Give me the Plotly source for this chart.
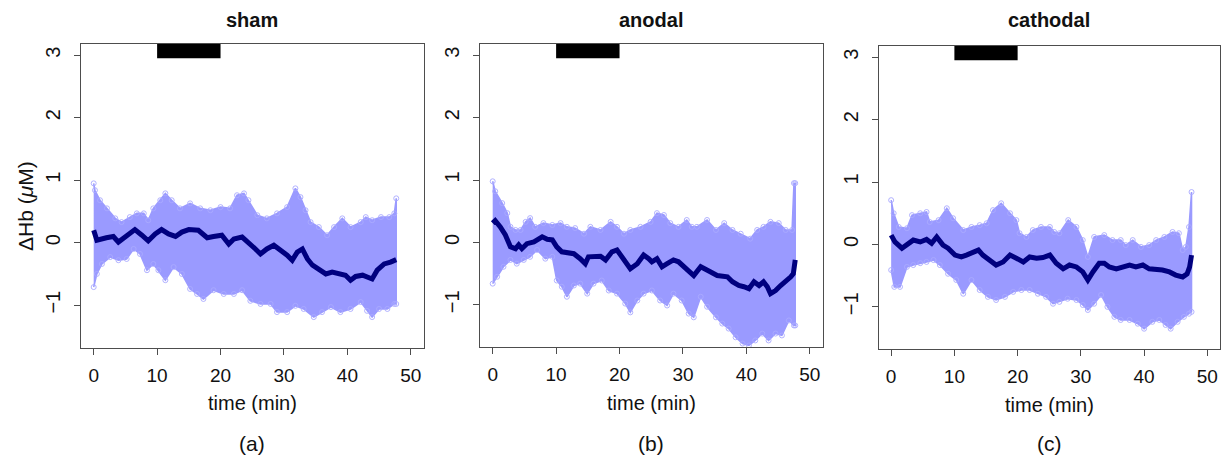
import plotly.graph_objects as go

# ---------------- data ----------------
titles = ["sham", "anodal", "cathodal"]
sublabels = ["(a)", "(b)", "(c)"]
time_ticks = [0, 10, 20, 30, 40, 50]
y_ticks = [-1, 0, 1, 2, 3]
stim_window = [10, 20]
stim_bar_y = [2.95, 3.18]

sham_mean_t = [0, 0.5, 2.0, 3.1, 3.9, 5.2, 6.5, 7.6, 8.6, 9.7, 10.7, 11.8, 12.9, 13.9, 15.0, 16.5, 17.9, 18.9,
               20.2, 21.3, 22.1, 23.4, 24.4, 25.5, 26.3, 27.3, 28.4, 29.5, 30.5, 31.3, 32.1, 32.9, 33.7, 34.5,
               35.5, 36.6, 37.6, 38.7, 39.7, 40.5, 41.3, 42.4, 43.4, 43.9, 44.7, 45.8, 46.8, 47.7]
sham_mean = [0.20, 0.04, 0.08, 0.10, 0.01, 0.12, 0.21, 0.12, 0.03, 0.14, 0.21, 0.14, 0.10, 0.17, 0.21, 0.20, 0.08,
             0.10, 0.12, -0.02, 0.06, 0.09, 0.01, -0.10, -0.18, -0.10, -0.04, -0.12, -0.20, -0.28, -0.15, -0.10,
             -0.26, -0.36, -0.42, -0.50, -0.47, -0.50, -0.52, -0.60, -0.54, -0.52, -0.55, -0.58, -0.44, -0.34,
             -0.31, -0.27]
sham_upper_t = [0, 0.2, 1.0, 2.1, 3.4, 4.4, 5.7, 6.8, 7.9, 8.6, 9.4, 10.5, 11.3, 12.3, 13.6, 15.2, 16.8, 18.4,
                20.0, 21.5, 22.6, 23.7, 24.4, 25.8, 27.3, 28.9, 30.5, 31.8, 32.6, 33.4, 34.2, 35.5, 36.8, 37.9,
                39.2, 40.5, 42.1, 42.9, 43.9, 45.3, 46.6, 47.4, 47.7]
sham_upper = [0.95, 0.84, 0.68, 0.55, 0.39, 0.33, 0.41, 0.47, 0.47, 0.36, 0.55, 0.68, 0.79, 0.68, 0.55, 0.63,
              0.55, 0.52, 0.57, 0.55, 0.76, 0.79, 0.68, 0.44, 0.39, 0.47, 0.57, 0.87, 0.73, 0.52, 0.33, 0.25,
              0.12, 0.25, 0.39, 0.25, 0.33, 0.41, 0.36, 0.41, 0.41, 0.47, 0.71]
sham_lower_t = [0, 0.5, 1.3, 2.6, 3.9, 5.2, 6.3, 7.3, 8.4, 9.4, 10.2, 11.3, 12.6, 13.9, 15.2, 16.3, 17.3, 18.9,
                20.5, 22.1, 23.4, 24.7, 26.3, 27.9, 28.9, 30.5, 31.8, 33.1, 34.7, 36.0, 37.4, 38.9, 40.5, 42.1,
                43.1, 43.9, 45.0, 46.3, 47.4, 47.7]
sham_lower = [-0.71, -0.50, -0.34, -0.23, -0.28, -0.26, -0.10, -0.18, -0.44, -0.34, -0.44, -0.60, -0.39, -0.50,
              -0.74, -0.82, -0.90, -0.76, -0.82, -0.82, -0.76, -0.93, -0.98, -0.98, -1.11, -1.11, -1.01, -1.06,
              -1.19, -1.11, -1.03, -1.11, -1.06, -0.95, -1.09, -1.19, -1.06, -1.06, -0.98, -0.98]

anodal_mean_t = [0, 0.4, 1.2, 2.0, 2.8, 3.6, 4.1, 4.6, 5.4, 6.5, 7.8, 8.6, 9.4, 10.1, 10.9, 11.7, 12.8, 13.8,
                 14.6, 15.1, 16.2, 17.0, 17.8, 18.8, 19.6, 20.4, 21.2, 21.7, 22.8, 23.8, 24.6, 25.1, 25.9, 26.7,
                 27.5, 28.5, 29.3, 30.1, 30.9, 31.7, 32.8, 33.5, 34.3, 35.4, 36.2, 37.0, 37.8, 38.8, 39.6, 40.4,
                 41.2, 42.0, 42.7, 43.3, 43.8, 44.6, 45.4, 46.2, 47.0, 47.4, 47.7]
anodal_mean = [0.31, 0.35, 0.25, 0.12, -0.07, -0.10, -0.04, -0.10, -0.02, 0.01, 0.09, 0.05, 0.04, -0.07, -0.15,
               -0.17, -0.18, -0.26, -0.34, -0.23, -0.23, -0.22, -0.28, -0.15, -0.12, -0.23, -0.36, -0.42, -0.34,
               -0.20, -0.26, -0.31, -0.26, -0.39, -0.34, -0.28, -0.31, -0.39, -0.47, -0.53, -0.39, -0.42, -0.47,
               -0.53, -0.53, -0.55, -0.63, -0.69, -0.71, -0.74, -0.63, -0.69, -0.63, -0.71, -0.82, -0.77, -0.69,
               -0.63, -0.55, -0.50, -0.28]
anodal_upper_t = [0, 0.4, 1.5, 2.3, 2.8, 3.6, 4.4, 5.2, 5.9, 6.7, 8.0, 9.4, 10.7, 11.7, 13.0, 14.4, 15.4, 17.0,
                  18.6, 19.6, 20.7, 21.7, 23.3, 24.9, 25.9, 27.0, 28.0, 29.3, 30.6, 31.4, 32.2, 33.8, 35.2, 36.5,
                  37.8, 39.1, 40.6, 41.7, 42.7, 43.8, 45.1, 46.2, 47.2, 47.5, 47.7]
anodal_upper = [0.98, 0.82, 0.63, 0.47, 0.25, 0.20, 0.20, 0.33, 0.39, 0.25, 0.31, 0.28, 0.31, 0.25, 0.23, 0.14,
                0.25, 0.20, 0.33, 0.25, 0.14, 0.20, 0.25, 0.33, 0.47, 0.44, 0.31, 0.25, 0.36, 0.25, 0.25, 0.36,
                0.20, 0.31, 0.20, 0.14, 0.06, 0.20, 0.25, 0.33, 0.31, 0.20, 0.20, 0.95, 0.95]
anodal_lower_t = [0, 0.7, 1.7, 2.8, 3.8, 4.9, 5.9, 7.0, 8.3, 9.4, 10.1, 10.9, 11.7, 12.8, 13.8, 14.9, 15.9, 17.2,
                  18.3, 19.6, 20.9, 21.7, 22.8, 23.8, 25.1, 26.4, 27.5, 28.5, 29.8, 30.9, 31.7, 32.8, 33.8, 35.2,
                  36.2, 37.2, 38.3, 39.4, 40.4, 41.4, 42.5, 43.5, 44.6, 45.6, 46.7, 47.5, 47.7]
anodal_lower = [-0.66, -0.55, -0.39, -0.28, -0.34, -0.28, -0.23, -0.12, -0.26, -0.23, -0.61, -0.71, -0.87, -0.69,
                -0.66, -0.82, -0.66, -0.61, -0.77, -0.82, -0.98, -1.12, -0.93, -0.82, -0.77, -0.93, -1.01, -0.82,
                -0.93, -1.14, -1.20, -0.87, -1.03, -1.20, -1.30, -1.38, -1.52, -1.62, -1.65, -1.57, -1.46, -1.57,
                -1.46, -1.49, -1.25, -1.33, -1.33]

cathodal_mean_t = [0, 0.6, 1.7, 2.7, 3.5, 4.6, 5.6, 6.4, 7.2, 8.2, 9.0, 10.1, 11.1, 11.9, 12.7, 13.8, 14.5, 15.6,
                   16.6, 17.7, 18.8, 19.8, 20.9, 21.9, 23.0, 24.0, 25.1, 26.1, 27.2, 28.2, 29.3, 30.3, 31.1, 31.9,
                   32.9, 33.7, 34.5, 35.6, 36.6, 37.7, 38.7, 39.8, 40.8, 41.9, 42.9, 44.0, 45.0, 46.1, 46.8, 47.2,
                   47.5]
cathodal_mean = [0.15, 0.04, -0.06, 0.02, 0.07, 0.04, 0.08, 0.02, 0.12, -0.01, -0.06, -0.17, -0.20, -0.17, -0.14,
                 -0.09, -0.17, -0.25, -0.33, -0.28, -0.17, -0.22, -0.28, -0.20, -0.22, -0.21, -0.17, -0.30, -0.39,
                 -0.33, -0.36, -0.44, -0.57, -0.44, -0.30, -0.30, -0.36, -0.39, -0.36, -0.33, -0.36, -0.33, -0.39,
                 -0.39, -0.41, -0.44, -0.49, -0.52, -0.47, -0.36, -0.17]
cathodal_upper_t = [0, 0.4, 1.2, 2.5, 3.3, 4.6, 5.6, 6.1, 7.5, 8.8, 9.8, 11.4, 12.7, 14.0, 15.1, 16.1, 17.4, 18.8,
                    19.8, 20.3, 21.4, 22.4, 23.7, 25.1, 25.8, 26.6, 28.0, 29.3, 30.3, 31.1, 32.1, 33.7, 35.0, 36.3,
                    37.1, 38.2, 39.5, 40.8, 41.9, 43.2, 44.5, 45.5, 46.1, 46.6, 47.1, 47.5]
cathodal_upper = [0.71, 0.50, 0.28, 0.26, 0.47, 0.50, 0.52, 0.36, 0.39, 0.58, 0.42, 0.23, 0.28, 0.31, 0.34, 0.55,
                  0.66, 0.50, 0.39, 0.18, 0.12, 0.23, 0.28, 0.28, 0.20, 0.18, 0.39, 0.28, 0.07, -0.20, 0.12, 0.15,
                  0.07, 0.07, -0.01, 0.07, -0.04, -0.01, 0.07, 0.12, 0.20, 0.18, -0.09, -0.04, 0.28, 0.84]
cathodal_lower_t = [0, 0.5, 1.4, 2.5, 3.5, 4.6, 5.6, 6.7, 7.7, 9.0, 10.3, 11.4, 12.7, 14.0, 15.3, 16.6, 18.0, 19.3,
                    20.6, 21.9, 23.2, 24.5, 25.6, 26.6, 27.9, 29.3, 30.3, 31.1, 32.1, 33.2, 34.2, 35.3, 36.3, 37.7,
                    39.0, 40.0, 41.3, 42.4, 43.4, 44.2, 45.3, 46.3, 47.1, 47.5]
cathodal_lower = [-0.41, -0.68, -0.68, -0.36, -0.33, -0.30, -0.28, -0.25, -0.33, -0.47, -0.57, -0.79, -0.57, -0.73,
                  -0.84, -0.89, -0.84, -0.76, -0.73, -0.73, -0.79, -0.84, -0.95, -0.92, -0.87, -0.89, -0.97, -1.05,
                  -0.95, -0.81, -1.00, -1.16, -1.21, -1.21, -1.27, -1.35, -1.24, -1.21, -1.29, -1.35, -1.24, -1.16,
                  -1.11, -1.08]

panels = [
    (sham_mean_t, sham_mean, sham_upper_t, sham_upper, sham_lower_t, sham_lower),
    (anodal_mean_t, anodal_mean, anodal_upper_t, anodal_upper, anodal_lower_t, anodal_lower),
    (cathodal_mean_t, cathodal_mean, cathodal_upper_t, cathodal_upper, cathodal_lower_t, cathodal_lower),
]

# ---------------- layout geometry (pixels) ----------------
W, H = 1224, 457
boxes = [(81, 423.5, 44, 347.7), (480, 822.5, 44, 347.3), (878.5, 1220, 46, 349.3)]
BAND = "rgb(154,154,255)"
BAND_EDGE = "rgba(170,170,255,0.9)"
MEAN = "#00007F"
AX = "#4d4d4d"
FONT = "Liberation Sans, Arial, sans-serif"

fig = go.Figure()
annotations = []
shapes = []
for i, (mt, mv, ut, uv, lt, lv) in enumerate(panels):
    sfx = "" if i == 0 else str(i + 1)
    xa, ya = "x" + sfx, "y" + sfx
    # band polygon
    fig.add_trace(go.Scatter(
        x=list(ut) + list(reversed(lt)), y=list(uv) + list(reversed(lv)),
        fill="toself", fillcolor=BAND, mode="lines+markers",
        line=dict(color=BAND, width=1.5),
        marker=dict(symbol="circle-open", size=5, color=BAND_EDGE, line=dict(width=1)),
        xaxis=xa, yaxis=ya, showlegend=False, hoverinfo="skip"))
    # mean curve
    fig.add_trace(go.Scatter(
        x=mt, y=mv, mode="lines", line=dict(color=MEAN, width=5),
        xaxis=xa, yaxis=ya, showlegend=False))
    # stimulation bar
    shapes.append(dict(type="rect", xref=xa, yref=ya, x0=stim_window[0], x1=stim_window[1],
                       y0=stim_bar_y[0], y1=stim_bar_y[1], fillcolor="black", line=dict(width=0)))

    x0, x1, y0, y1 = boxes[i]
    dom_x = [x0 / W, x1 / W]
    dom_y = [1 - y1 / H, 1 - y0 / H]
    fig.update_layout(**{
        "xaxis" + sfx: dict(domain=dom_x, range=[-2, 52], tickvals=time_ticks, ticks="outside", ticklen=6,
                            tickcolor=AX, showline=True, linecolor=AX, linewidth=1, mirror=True,
                            showgrid=False, zeroline=False, anchor=ya,
                            tickfont=dict(family=FONT, size=19, color="#111"), ticklabelstandoff=4),
        "yaxis" + sfx: dict(domain=dom_y, range=[-1.68, 3.18], tickvals=y_ticks, ticks="outside", ticklen=6,
                            tickcolor=AX, showline=True, linecolor=AX, linewidth=1, mirror=True,
                            showgrid=False, zeroline=False, anchor=xa, tickangle=-90,
                            tickfont=dict(family=FONT, size=20, color="#111"), ticklabelstandoff=6),
    })
    cx = (x0 + x1) / 2 / W
    annotations.append(dict(text="<b>" + titles[i] + "</b>", x=cx, y=1 - 20 / H, xref="paper", yref="paper",
                            showarrow=False, font=dict(family=FONT, size=20, color="#111"),
                            xanchor="center", yanchor="middle"))
    annotations.append(dict(text="time (min)", x=cx, y=1 - (403 + (y1 - 347.7)) / H, xref="paper", yref="paper",
                            showarrow=False, font=dict(family=FONT, size=20, color="#111"),
                            xanchor="center", yanchor="middle"))
    annotations.append(dict(text=sublabels[i], x=cx, y=1 - 443 / H, xref="paper", yref="paper",
                            showarrow=False, font=dict(family=FONT, size=21, color="#111"),
                            xanchor="center", yanchor="middle"))

annotations.append(dict(text="ΔHb (<i>μ</i>M)", x=25 / W, y=1 - 206 / H, xref="paper", yref="paper",
                        showarrow=False, textangle=-90, font=dict(family=FONT, size=21, color="#111"),
                        xanchor="center", yanchor="middle"))

fig.update_layout(width=W, height=H, margin=dict(l=0, r=0, t=0, b=0),
                  paper_bgcolor="white", plot_bgcolor="white",
                  annotations=annotations, shapes=shapes)

fig.write_html("out.html", config={"displayModeBar": False},
               post_script="document.body.style.margin='0';document.body.style.overflow='hidden';")
